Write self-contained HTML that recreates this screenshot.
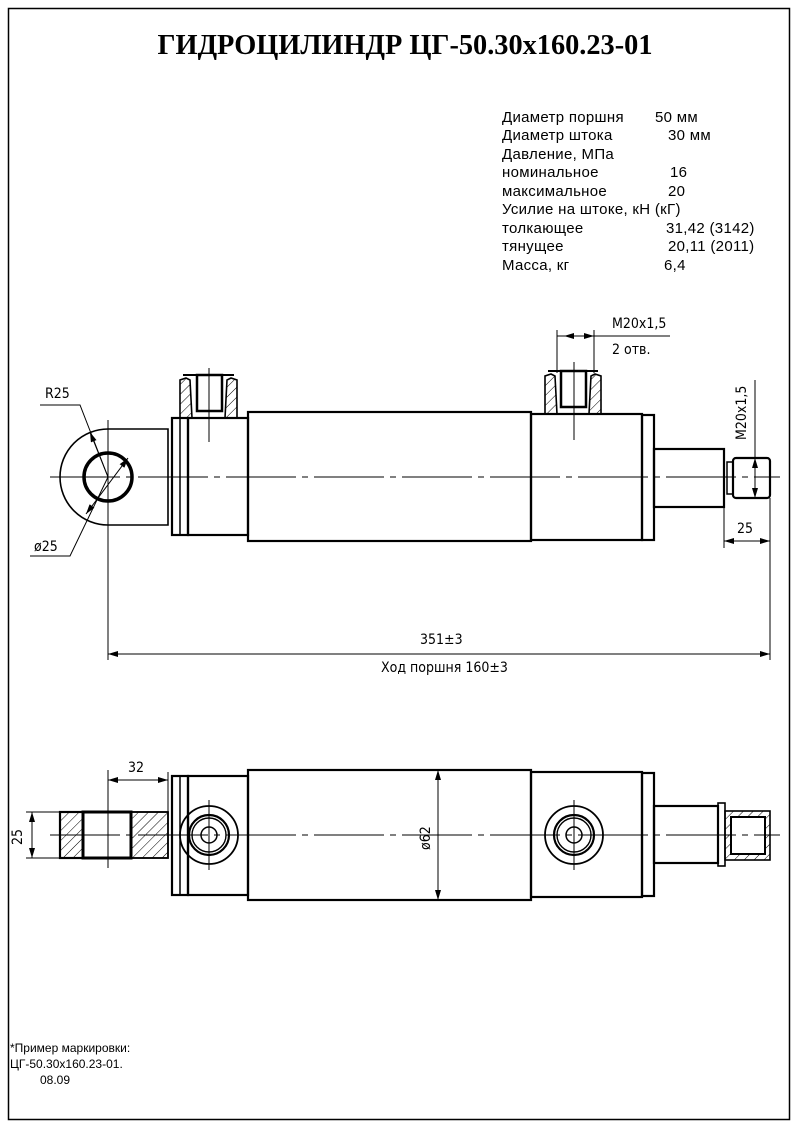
<!DOCTYPE html>
<html><head><meta charset="utf-8"><style>body{margin:0;background:#fff}svg{display:block}</style></head><body>
<svg width="798" height="1127" viewBox="0 0 798 1127" xmlns="http://www.w3.org/2000/svg" font-family="Liberation Sans, sans-serif">
<defs>
<pattern id="h" width="7" height="7" patternUnits="userSpaceOnUse" patternTransform="rotate(45)"><line x1="0" y1="0" x2="0" y2="7" stroke="#000" stroke-width="1"/></pattern>
<marker id="a" viewBox="0 0 10 6" refX="10" refY="3" markerWidth="10" markerHeight="6" orient="auto-start-reverse"><path d="M0,0L10,3L0,6z" fill="#000"/></marker>
</defs>
<rect x="8.5" y="8.5" width="781" height="1111" fill="none" stroke="#000" stroke-width="1.5"/>
<text x="405" y="54" text-anchor="middle" font-family="Liberation Serif, serif" font-weight="bold" font-size="28" textLength="495" lengthAdjust="spacingAndGlyphs">ГИДРОЦИЛИНДР ЦГ-50.30х160.23-01</text>
<g font-size="15" letter-spacing="0.3">
<text x="502" y="122">Диаметр поршня</text><text x="655" y="122">50 мм</text>
<text x="502" y="140">Диаметр штока</text><text x="668" y="140">30 мм</text>
<text x="502" y="159">Давление, МПа</text>
<text x="502" y="177">номинальное</text><text x="670" y="177">16</text>
<text x="502" y="196">максимальное</text><text x="668" y="196">20</text>
<text x="502" y="214">Усилие на штоке, кН (кГ)</text>
<text x="502" y="233">толкающее</text><text x="666" y="233">31,42 (3142)</text>
<text x="502" y="251">тянущее</text><text x="668" y="251">20,11 (2011)</text>
<text x="502" y="270">Масса, кг</text><text x="664" y="270">6,4</text>
</g>
<g fill="none" stroke="#000" stroke-width="2.2">
<path d="M108,429 A48,48 0 1 0 108,525 L168,525 L168,429 Z" stroke-width="1.6"/>
<circle cx="108" cy="477" r="24" stroke-width="3.5"/>
<rect x="172" y="418" width="16" height="117"/>
<line x1="180" y1="418" x2="180" y2="535" stroke-width="1.5"/>
<rect x="188" y="418" width="60" height="117"/>
<rect x="248" y="412" width="283" height="129"/>
<rect x="531" y="414" width="111" height="126"/>
<rect x="642" y="415" width="12" height="125"/>
<rect x="654" y="449" width="70" height="58"/>
<rect x="727" y="462" width="6" height="32" stroke-width="1.5"/>
<rect x="733" y="458" width="37" height="40" rx="3"/>
<path d="M180,418 L180,380 L186,378 L190,380 L192,418 M237,418 L237,380 L231,378 L227,380 L225,418" fill="url(#h)" stroke-width="1.6"/>
<line x1="183" y1="375" x2="234" y2="375" stroke-width="2"/>
<rect x="197" y="375" width="25" height="36" stroke-width="2.5"/>
<path d="M545,414 L545,376 L551,374 L555,376 L557,414 M601,414 L601,376 L595,374 L591,376 L589,414" fill="url(#h)" stroke-width="1.6"/>
<line x1="548" y1="371" x2="598" y2="371" stroke-width="2"/>
<rect x="561" y="371" width="25" height="36" stroke-width="2.5"/>
<rect x="60" y="812" width="108" height="46" stroke-width="1.6"/>
<rect x="60" y="812" width="23" height="46" fill="url(#h)"/>
<rect x="131" y="812" width="37" height="46" fill="url(#h)" stroke-width="1.6"/>
<rect x="83" y="812" width="48" height="46" stroke-width="3"/>
<rect x="172" y="776" width="16" height="119"/>
<line x1="180" y1="776" x2="180" y2="895" stroke-width="1.5"/>
<rect x="188" y="776" width="60" height="119"/>
<rect x="248" y="770" width="283" height="130"/>
<rect x="531" y="772" width="111" height="125"/>
<rect x="642" y="773" width="12" height="123"/>
<rect x="654" y="806" width="64" height="57"/>
<rect x="718" y="803" width="7" height="63" stroke-width="1.6"/>
<rect x="725" y="811" width="45" height="49" fill="url(#h)" stroke-width="1.6"/>
<rect x="731" y="817" width="34" height="37" fill="#fff" stroke-width="2"/>
<circle cx="209" cy="835" r="29" stroke-width="1.8"/><circle cx="209" cy="835" r="20"/><circle cx="209" cy="835" r="17" stroke-width="1.4"/><circle cx="209" cy="835" r="8" stroke-width="1.5"/>
<circle cx="574" cy="835" r="29" stroke-width="1.8"/><circle cx="574" cy="835" r="20"/><circle cx="574" cy="835" r="17" stroke-width="1.4"/><circle cx="574" cy="835" r="8" stroke-width="1.5"/>
</g>
<g fill="none" stroke="#000" stroke-width="1">
<line x1="50" y1="477" x2="780" y2="477" stroke-dasharray="70,6,6,6"/>
<line x1="50" y1="835" x2="780" y2="835" stroke-dasharray="70,6,6,6"/>
<line x1="108" y1="420" x2="108" y2="660"/>
<line x1="209" y1="368" x2="209" y2="442"/><line x1="574" y1="362" x2="574" y2="440"/>
<line x1="209" y1="800" x2="209" y2="870"/><line x1="574" y1="800" x2="574" y2="870"/>
<line x1="108" y1="770" x2="108" y2="868"/>
<polyline points="40,405 80,405 108,477" /><line x1="90" y1="432" x2="108" y2="477" marker-start="url(#a)"/>
<polyline points="30,556 70,556 108,477"/><line x1="86" y1="514" x2="128" y2="458" marker-start="url(#a)" marker-end="url(#a)"/>
<line x1="557" y1="330" x2="557" y2="373"/><line x1="594" y1="330" x2="594" y2="373"/>
<line x1="557" y1="336" x2="670" y2="336"/>
<line x1="564" y1="336" x2="577" y2="336" marker-start="url(#a)"/><line x1="580" y1="336" x2="594" y2="336" marker-end="url(#a)"/>
<line x1="755" y1="380" x2="755" y2="498"/>
<line x1="755" y1="470" x2="755" y2="458" marker-end="url(#a)"/><line x1="755" y1="485" x2="755" y2="498" marker-end="url(#a)"/>
<line x1="724" y1="507" x2="724" y2="548"/><line x1="770" y1="498" x2="770" y2="660"/>
<line x1="724" y1="541" x2="770" y2="541" marker-start="url(#a)" marker-end="url(#a)"/>
<line x1="108" y1="654" x2="770" y2="654" marker-start="url(#a)" marker-end="url(#a)"/>
<line x1="168" y1="772" x2="168" y2="812"/>
<line x1="108" y1="780" x2="168" y2="780" marker-start="url(#a)" marker-end="url(#a)"/>
<line x1="26" y1="812" x2="60" y2="812"/><line x1="26" y1="858" x2="60" y2="858"/>
<line x1="32" y1="812" x2="32" y2="858" marker-start="url(#a)" marker-end="url(#a)"/>
<line x1="438" y1="770" x2="438" y2="900" marker-start="url(#a)" marker-end="url(#a)"/>
</g>
<g font-size="14" fill="#000" font-family="DejaVu Sans Condensed, Liberation Sans, sans-serif">
<text x="45" y="398">R25</text>
<text x="34" y="551">ø25</text>
<text x="612" y="328">M20x1,5</text>
<text x="612" y="354">2 отв.</text>
<text transform="translate(746,440) rotate(-90)">M20x1,5</text>
<text x="737" y="533">25</text>
<text x="420" y="644">351±3</text>
<text x="381" y="672">Ход поршня 160±3</text>
<text x="128" y="772">32</text>
<text transform="translate(22,845) rotate(-90)">25</text>
<text transform="translate(430,850) rotate(-90)">ø62</text>
</g>
<g font-size="12" fill="#000">
<text x="10" y="1052">*Пример маркировки:</text>
<text x="10" y="1068">ЦГ-50.30х160.23-01.</text>
<text x="40" y="1084">08.09</text>
</g>
</svg>
</body></html>
